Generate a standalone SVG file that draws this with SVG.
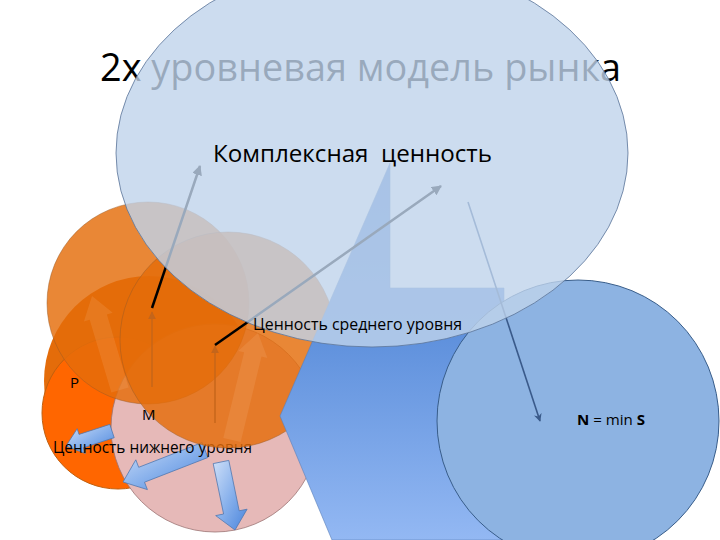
<svg xmlns="http://www.w3.org/2000/svg" width="720" height="540" viewBox="0 0 720 540">
  <defs>
    <style>
      .t { font-family: "Open Sans", "Noto Sans", "DejaVu Sans", sans-serif; fill: #000; }
      .orange { fill: #e46c0a; fill-opacity: 0.82; stroke: #9a5a25; stroke-width: 0.8; stroke-opacity: 0.6; }
      .ghost { fill: #fbc08e; fill-opacity: 0.16; stroke: none; }
      .barrow { fill: url(#gBlueArrow); stroke: #4f77b0; stroke-width: 0.8; }
      .conn { fill: none; stroke: #000; stroke-width: 2.5; }
    </style>
    <linearGradient id="gBlueArrow" x1="0" y1="0" x2="1" y2="1">
      <stop offset="0" stop-color="#cfe0f8"/>
      <stop offset="0.5" stop-color="#8ab2ec"/>
      <stop offset="1" stop-color="#4a84dc"/>
    </linearGradient>
    <linearGradient id="gPoly" gradientUnits="userSpaceOnUse" x1="0" y1="163" x2="0" y2="540">
      <stop offset="0" stop-color="#4d80d2"/>
      <stop offset="0.45" stop-color="#5e90dc"/>
      <stop offset="1" stop-color="#93b8f3"/>
    </linearGradient>
    <marker id="mBlack" viewBox="0 0 10 10" refX="9" refY="5" markerWidth="4" markerHeight="4" orient="auto">
      <path d="M0,0 L10,5 L0,10 Z" fill="#000"/>
    </marker>
    <marker id="mBlue" viewBox="0 0 10 10" refX="9" refY="5" markerWidth="5" markerHeight="5" orient="auto">
      <path d="M0,0 L10,5 L0,10 L3,5 Z" fill="#3a5a8a"/>
    </marker>
    <marker id="mBrown" viewBox="0 0 10 10" refX="9" refY="5" markerWidth="4" markerHeight="4" orient="auto">
      <path d="M0,0 L10,5 L0,10 Z" fill="#c4651a"/>
    </marker>
  </defs>

  <rect x="0" y="0" width="720" height="540" fill="#ffffff"/>

  <g id="title">
    <text class="t" x="100" y="81" font-size="38" textLength="521" lengthAdjust="spacingAndGlyphs">2х уровневая модель рынка</text>
  </g>

  <g id="node-base">
    <circle cx="149" cy="381" r="105" fill="#e46c0a"/>
  </g>

  <g id="node-p">
    <circle cx="118" cy="413" r="76" fill="#ff6600" stroke="#c0600f" stroke-width="1"/>
  </g>

  <g id="node-lower">
    <circle cx="215" cy="428" r="104" fill="#e6b9b8" stroke="#9c7474" stroke-width="0.8"/>
    <polygon class="barrow" points="109.8,424.4 79.0,434.4 77.2,428.7 66,446 85.2,453.4 83.4,447.7 114.2,437.7"/>
    <polygon class="barrow" points="202.1,442.5 138.7,467.3 135.8,459.8 123,482 147.4,489.6 144.5,482.2 207.9,457.5"/>
    <polygon class="barrow" points="213.2,463.6 228.8,460.4 239.2,510.8 247.1,509.2 235,530 215.7,515.6 223.6,514.0"/>
    <text class="t" x="53" y="453" font-size="15.5" textLength="199" lengthAdjust="spacingAndGlyphs">Ценность нижнего уровня</text>
  </g>

  <g id="node-mid-1">
    <circle class="orange" cx="148" cy="303" r="101"/>
  </g>

  <g id="node-mid-2">
    <circle class="orange" cx="228" cy="340" r="108"/>
    <polygon class="ghost" points="111.4,392.6 89.7,319.7 83.9,321.4 92,296 112.7,312.8 106.9,314.5 128.6,387.4"/>
    <polygon class="ghost" points="223.3,437.9 244.1,352.3 238.2,350.9 258,333 267.4,357.9 261.5,356.5 240.7,442.1"/>
  </g>

  <g id="node-supply">
    <polygon points="390,163 390,288 504,288 504,540 332,540 280,416" fill="url(#gPoly)" stroke="#5a7fb8" stroke-width="0.6"/>
  </g>

  <g id="node-n">
    <circle cx="578" cy="421" r="141" fill="#8db3e2" stroke="#385d8a" stroke-width="1"/>
    <text class="t" x="577" y="425" font-size="14" textLength="68" lengthAdjust="spacingAndGlyphs"><tspan font-weight="bold">N</tspan> = min <tspan font-weight="bold">S</tspan></text>
  </g>

  <g id="connectors">
    <line x1="152" y1="387" x2="152" y2="312" stroke="#c4651a" stroke-width="2" stroke-opacity="0.7" marker-end="url(#mBrown)"/>
    <line x1="215" y1="423" x2="215" y2="346" stroke="#c4651a" stroke-width="2" stroke-opacity="0.7" marker-end="url(#mBrown)"/>
    <line class="conn" x1="152" y1="308" x2="200" y2="166" marker-end="url(#mBlack)"/>
    <line class="conn" x1="215" y1="345" x2="441" y2="186" marker-end="url(#mBlack)"/>
    <line x1="468" y1="202" x2="540" y2="421" stroke="#3a5a8a" stroke-width="1.6" marker-end="url(#mBlue)"/>
  </g>

  <g id="node-top">
    <ellipse cx="372" cy="153" rx="256" ry="194" fill="#bfd3eb" fill-opacity="0.8" stroke="#5b7398" stroke-width="0.8"/>
    <text class="t" x="213" y="162" font-size="24" textLength="279" lengthAdjust="spacingAndGlyphs">Комплексная&#160; ценность</text>
  </g>

  <g id="labels">
    <text id="label-mid" class="t" x="253" y="330" font-size="15.5" textLength="209" lengthAdjust="spacingAndGlyphs">Ценность среднего уровня</text>
    <text id="label-p" class="t" x="70" y="388" font-size="15">Р</text>
    <text id="label-m" class="t" x="142" y="420" font-size="15">М</text>
  </g>
</svg>
